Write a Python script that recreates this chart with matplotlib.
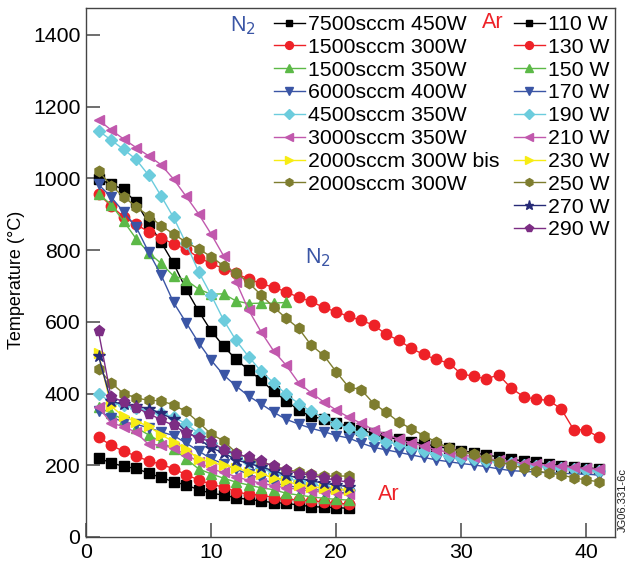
import matplotlib
matplotlib.use("Agg")
import matplotlib.pyplot as plt

plt.rcParams['font.family'] = ['Liberation Sans', 'DejaVu Sans']

# ---------------- data ----------------
n2_labels = ["7500sccm 450W", "1500sccm 300W", "1500sccm 350W", "6000sccm 400W",
             "4500sccm 350W", "3000sccm 350W", "2000sccm 300W bis", "2000sccm 300W"]

n2_7500_450 = [998, 984, 969, 933, 876, 822, 763, 691, 630, 575, 532, 495, 466, 437, 406, 380,
               354, 336, 329, 318, 308, 298, 289, 280, 272, 266, 260, 253, 247, 241, 235, 229,
               223, 217, 212, 208, 203, 199, 196, 193, 190]
n2_1500_300 = [957, 923, 893, 872, 851, 835, 816, 803, 779, 763, 748, 735, 719, 707, 696, 684,
               668, 657, 640, 628, 615, 604, 591, 565, 549, 526, 509, 495, 485, 455, 448, 441,
               452, 415, 391, 384, 381, 357, 299, 299, 278]
n2_1500_350 = [957, 927, 881, 832, 793, 763, 728, 717, 691, 677, 678, 658, 651, 652, 652, 654]
n2_6000_400 = [983, 948, 907, 865, 795, 731, 654, 598, 542, 493, 452, 421, 393, 371, 348, 328,
               315, 303, 294, 283, 276, 262, 250, 243, 236, 229, 222, 215, 210, 205, 201, 196,
               190, 185, 183, 181, 179, 178, 176, 175, 173]
n2_4500_350 = [1133, 1107, 1081, 1053, 1009, 951, 891, 819, 740, 675, 605, 548, 503, 462, 430,
               398, 372, 350, 333, 315, 303, 289, 276, 266, 258, 248, 239, 232, 226, 221, 217,
               213, 210, 206, 202, 199, 196, 193, 190, 187, 184]
n2_3000_350 = [1163, 1135, 1110, 1086, 1063, 1038, 998, 950, 901, 845, 784, 712, 633, 572, 519,
               479, 430, 402, 377, 354, 334, 317, 299, 287, 273, 263, 254, 243, 236, 229, 224,
               219, 214, 210, 206, 203, 200, 197, 194, 191, 189]
n2_2000_300_bis = []
n2_2000_300 = [1021, 980, 949, 921, 896, 868, 845, 822, 803, 782, 756, 737, 709, 675, 641, 610,
               582, 535, 507, 461, 418, 411, 372, 348, 321, 302, 283, 265, 248, 237, 231, 219,
               210, 201, 192, 185, 178, 173, 165, 159, 154]

ar_labels = ["110 W", "130 W", "150 W", "170 W", "190 W", "210 W", "230 W", "250 W", "270 W", "290 W"]

ar_110 = [220, 207, 197, 191, 178, 166, 154, 145, 132, 122, 117, 109, 105, 100, 96, 94, 89, 85, 83, 82, 80]
ar_130 = [278, 256, 239, 226, 212, 203, 190, 174, 159, 147, 139, 126, 119, 117, 110, 106, 103, 101, 98, 94, 92]
ar_150 = [362, 345, 327, 305, 285, 265, 246, 218, 190, 176, 164, 153, 145, 137, 132, 122, 117, 112, 108, 105, 103]
ar_170 = [352, 333, 322, 314, 305, 293, 283, 262, 240, 218, 204, 189, 175, 162, 150, 144, 138, 134, 129, 125, 122]
ar_190 = [400, 375, 367, 360, 352, 345, 335, 315, 290, 262, 245, 222, 208, 192, 178, 165, 155, 148, 140, 135, 131]
ar_210 = [362, 318, 308, 292, 258, 257, 247, 230, 210, 190, 180, 168, 158, 150, 143, 137, 133, 128, 125, 122, 120]
ar_230 = [512, 365, 336, 322, 309, 285, 266, 245, 218, 208, 200, 192, 182, 177, 164, 155, 146, 140, 136, 133, 131]
ar_250 = [468, 430, 400, 388, 381, 380, 368, 350, 320, 287, 268, 235, 220, 210, 198, 188, 182, 176, 170, 170, 170]
ar_270 = [505, 378, 370, 365, 358, 345, 328, 294, 275, 248, 235, 215, 205, 196, 184, 174, 164, 157, 150, 145, 140]
ar_290 = [573, 391, 377, 361, 344, 327, 311, 290, 276, 266, 243, 231, 223, 211, 197, 186, 177, 173, 164, 159, 152]

x_ticks = [0, 10, 20, 30, 40]
y_ticks = [0, 200, 400, 600, 800, 1000, 1200, 1400]

# ---------------- styles ----------------
colors = ['#000000', '#ee2127', '#5cb947', '#3a55a5', '#6cccdd', '#c158ad',
          '#f7ec13', '#7e7d2f', '#262a77', '#7c2d84']
markers = ['s', 'o', '^', 'v', 'D', '<', '>', 'h', '*', 'p']
msizes = [6.5, 7.5, 7.5, 7.5, 6.5, 7.5, 7.5, 7.5, 9, 8]

n2_series = [n2_7500_450, n2_1500_300, n2_1500_350, n2_6000_400,
             n2_4500_350, n2_3000_350, n2_2000_300_bis, n2_2000_300]
ar_series = [ar_110, ar_130, ar_150, ar_170, ar_190, ar_210, ar_230, ar_250, ar_270, ar_290]

fig = plt.figure(figsize=(6.3, 5.63), dpi=100)
ax = fig.add_axes([86/630, 26/563, 529/630, 529/563])

n2_handles = []
for k, (vals, lab) in enumerate(zip(n2_series, n2_labels)):
    xs = list(range(1, len(vals) + 1))
    ln, = ax.plot(xs, vals, color=colors[k], marker=markers[k], ms=msizes[k],
                  mec=colors[k], mfc=colors[k], lw=1.0, label=lab, zorder=3)
    n2_handles.append(ln)

ar_handles = []
for k, (vals, lab) in enumerate(zip(ar_series, ar_labels)):
    xs = list(range(1, len(vals) + 1))
    ln, = ax.plot(xs, vals, color=colors[k], marker=markers[k], ms=msizes[k],
                  mec=colors[k], mfc=colors[k], lw=1.0, label=lab, zorder=2)
    ar_handles.append(ln)

ax.set_xlim(0, 42.3)
ax.set_ylim(0, 1475)
ax.set_xticks(x_ticks)
ax.set_yticks(y_ticks)
ax.tick_params(direction='in', length=10, width=1.2, color='#555555', labelsize=15.3,
               pad=4)
for s in ax.spines.values():
    s.set_color('#444444')
    s.set_linewidth(1.0)
ax.set_ylabel('Temperature (°C)', fontsize=13)
ax.yaxis.set_label_coords(-0.115, 0.486)

leg_kw = dict(loc='upper left', bbox_transform=fig.transFigure, frameon=False,
              fontsize=15.3, handlelength=1.45, handletextpad=0.15,
              labelspacing=0.18, borderpad=0, borderaxespad=0, markerscale=0.75)
leg1 = ax.legend(handles=n2_handles, bbox_to_anchor=(274/630, 1 - 15/563), **leg_kw)
ax.add_artist(leg1)
leg2 = ax.legend(handles=ar_handles, bbox_to_anchor=(514/630, 1 - 15/563), **leg_kw)

fig.text(243/630, 1 - 26/563, 'N$_2$', color='#3a55a5', fontsize=15.5, ha='center', va='center')
fig.text(493/630, 1 - 22/563, 'Ar', color='#ee2127', fontsize=15.5, ha='center', va='center')
fig.text(318/630, 1 - 258/563, 'N$_2$', color='#3a55a5', fontsize=15.5, ha='center', va='center')
fig.text(389/630, 1 - 495/563, 'Ar', color='#ee2127', fontsize=15.5, ha='center', va='center')
fig.text(623/630, 1 - 500/563, 'JG06.331-6c', rotation=90, fontsize=8, ha='center',
         va='center', color='#222222')

fig.savefig('out.png', dpi=100)
